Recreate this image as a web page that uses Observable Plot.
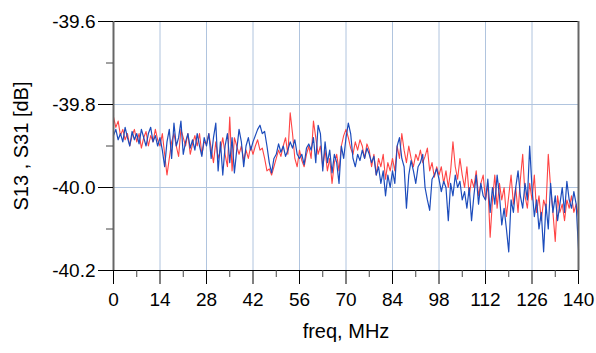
<!DOCTYPE html>
<html>
<head>
<meta charset="utf-8">
<script src="https://cdn.jsdelivr.net/npm/d3@7"></script>
<script src="https://cdn.jsdelivr.net/npm/@observablehq/plot@0.6"></script>
<style>
  html, body { margin: 0; padding: 0; background: #fff; }
  #chart svg { display: block; }
</style>
</head>
<body>
<div id="chart"></div>
<script>
const xTicks = [0, 14, 28, 42, 56, 70, 84, 98, 112, 126, 140];
const xMinorTicks = [7, 21, 35, 49, 63, 77, 91, 105, 119, 133];
const yTicks = [-39.6, -39.8, -40.0, -40.2];
const yMinorTicks = [-39.7, -39.9, -40.1];
const xLabel = "freq, MHz";
const yLabel = "S13 , S31 [dB]";

// frequency points (MHz), 0.7 MHz step
const freq = d3.range(201).map(i => +(i * 0.7).toFixed(1));

const s31 = [
  -39.875, -39.86, -39.885, -39.87, -39.89, -39.855, -39.88, -39.9, -39.865, -39.885, -39.87, -39.895, -39.86, -39.88, -39.9, -39.87, -39.855, -39.89, -39.875, -39.9,
  -39.88, -39.91, -39.95, -39.89, -39.86, -39.93, -39.845, -39.9, -39.88, -39.84, -39.92, -39.89, -39.87, -39.905, -39.885, -39.91, -39.87, -39.9, -39.925, -39.88,
  -39.9, -39.87, -39.93, -39.88, -39.845, -39.96, -39.89, -39.97, -39.9, -39.87, -39.94, -39.88, -39.965, -39.91, -39.86, -39.89, -39.95, -39.9, -39.88, -39.91,
  -39.89, -39.875, -39.86, -39.85, -39.87, -39.865, -39.9, -39.94, -39.965, -39.93, -39.92, -39.895, -39.915, -39.9, -39.925, -39.91, -39.89, -39.905, -39.885, -39.92,
  -39.93, -39.92, -39.945, -39.905, -39.895, -39.91, -39.88, -39.94, -39.85, -39.87, -39.96, -39.89, -39.94, -39.91, -39.965, -39.92, -39.94, -39.99, -39.9, -39.93,
  -39.88, -39.845, -39.87, -39.93, -39.95, -39.92, -39.935, -39.91, -39.93, -39.905, -39.92, -39.94, -39.925, -39.97, -39.95, -39.99, -39.96, -40.02, -39.97, -40.0,
  -39.96, -39.99, -39.9, -39.88, -39.93, -39.95, -40.05, -39.97, -39.935, -39.96, -39.99, -39.95, -39.94, -39.92, -40.0, -40.03, -40.055, -39.98, -39.97, -39.955,
  -39.98, -40.01, -39.985, -40.0, -40.08, -39.99, -40.02, -39.97, -40.0, -39.985, -40.03, -40.01, -40.05, -40.0, -40.08, -40.02, -39.97, -40.04, -39.99, -40.02,
  -40.03, -39.98, -40.06, -40.0, -40.04, -39.97, -40.02, -40.09, -40.05, -40.1, -40.155, -40.03, -40.06, -40.0, -39.96, -40.02, -40.05, -39.99, -40.03, -39.9,
  -40.0, -40.07, -40.03, -40.1, -40.06, -40.155, -40.04, -40.1, -39.99, -40.06, -40.02, -40.08, -40.04, -40.0, -40.06, -39.985, -40.03, -40.05, -40.01, -40.04, -40.15
];

const s13 = [
  -39.83, -39.855, -39.84, -39.875, -39.86, -39.885, -39.87, -39.9, -39.875, -39.86, -39.89, -39.87, -39.905, -39.88, -39.865, -39.9, -39.875, -39.89, -39.86, -39.885,
  -39.9, -39.87, -39.92, -39.97, -39.93, -39.89, -39.87, -39.9, -39.925, -39.86, -39.88, -39.9, -39.87, -39.92, -39.895, -39.875, -39.9, -39.87, -39.92, -39.89,
  -39.895, -39.87, -39.905, -39.94, -39.89, -39.93, -39.91, -39.88, -39.92, -39.95, -39.83, -39.96, -39.88, -39.9, -39.92, -39.9, -39.935, -39.91, -39.93, -39.9,
  -39.92, -39.9, -39.885, -39.91, -39.905, -39.93, -39.96, -39.955, -39.97, -39.95, -39.93, -39.91, -39.925, -39.9, -39.88, -39.92, -39.82, -39.87, -39.93, -39.95,
  -39.91, -39.935, -39.95, -39.92, -39.9, -39.93, -39.84, -39.88, -39.92, -39.9, -39.95, -39.91, -39.96, -39.93, -39.99, -39.94, -39.92, -39.96, -39.9, -39.875,
  -39.86, -39.88, -39.905, -39.92, -39.89, -39.91, -39.885, -39.9, -39.93, -39.895, -39.91, -39.95, -39.92, -39.97, -39.93, -39.95, -39.92, -39.98, -39.94, -39.96,
  -39.93, -39.96, -39.9, -39.93, -39.87, -39.91, -39.94, -39.9, -39.93, -39.95, -39.92, -39.935, -39.91, -39.94, -39.925, -39.905, -39.96, -39.94, -39.975, -39.95,
  -39.97, -39.95, -39.99, -39.96, -40.0, -39.96, -39.89, -39.95, -39.98, -39.93, -39.97, -40.0, -39.95, -40.02, -39.98, -40.0, -39.96, -40.02, -39.99, -39.97,
  -40.03, -39.99, -40.12, -40.03, -39.97, -40.05, -39.99, -40.03, -40.0, -40.07, -40.02, -39.97, -40.04, -40.0, -40.06, -39.98, -39.92, -40.02, -40.05, -39.99,
  -40.03, -39.97, -40.06, -40.02, -40.08, -40.03, -40.05, -39.92, -40.0, -40.06, -40.13, -40.02, -40.06, -40.04, -40.08, -40.03, -40.05, -40.02, -40.06, -40.04, -40.07
];

const red = freq.map((f, i) => ({f, v: s13[i]}));
const blue = freq.map((f, i) => ({f, v: s31[i]}));

const font = "'Liberation Sans', Arial, sans-serif";

const chart = Plot.plot({
  width: 596,
  height: 353,
  marginLeft: 113,
  marginRight: 18,
  marginTop: 21,
  marginBottom: 83,
  style: {fontFamily: font, fontSize: "19px", color: "black", background: "white"},
  x: {domain: [0, 140], axis: null},
  y: {domain: [-40.2, -39.6], axis: null},
  marks: [
    Plot.gridX({ticks: xTicks.slice(1, -1), stroke: "#b0c4de", strokeOpacity: 1}),
    Plot.gridY({ticks: [-39.8, -40.0], stroke: "#b0c4de", strokeOpacity: 1}),
    Plot.line(red, {x: "f", y: "v", stroke: "#ff4444", strokeWidth: 1.1}),
    Plot.line(blue, {x: "f", y: "v", stroke: "#1c4cbc", strokeWidth: 1.2}),
    Plot.ruleY([-39.6, -40.2], {stroke: "black", strokeWidth: 1}),
    Plot.ruleX([0, 140], {stroke: "#666", strokeWidth: 2}),
    Plot.axisY({ticks: yTicks, tickSize: 15, tickPadding: 3, tickFormat: d => d.toFixed(1), fontSize: 19, label: null}),
    Plot.axisY({ticks: yMinorTicks, tickSize: 7, tickFormat: () => "", stroke: "#444", label: null}),
    Plot.axisX({ticks: xTicks, tickSize: 14, tickPadding: 8, tickFormat: d => String(d), fontSize: 19, label: null}),
    Plot.axisX({ticks: xMinorTicks, tickSize: 7, tickFormat: () => "", stroke: "#444", label: null}),
    Plot.text([xLabel], {frameAnchor: "bottom", dy: 67, text: d => d, fontSize: 20}),
    Plot.text([yLabel], {frameAnchor: "left", dx: -92, rotate: -90, textAnchor: "middle", text: d => d, fontSize: 20})
  ]
});

document.getElementById("chart").appendChild(chart);
</script>
</body>
</html>
